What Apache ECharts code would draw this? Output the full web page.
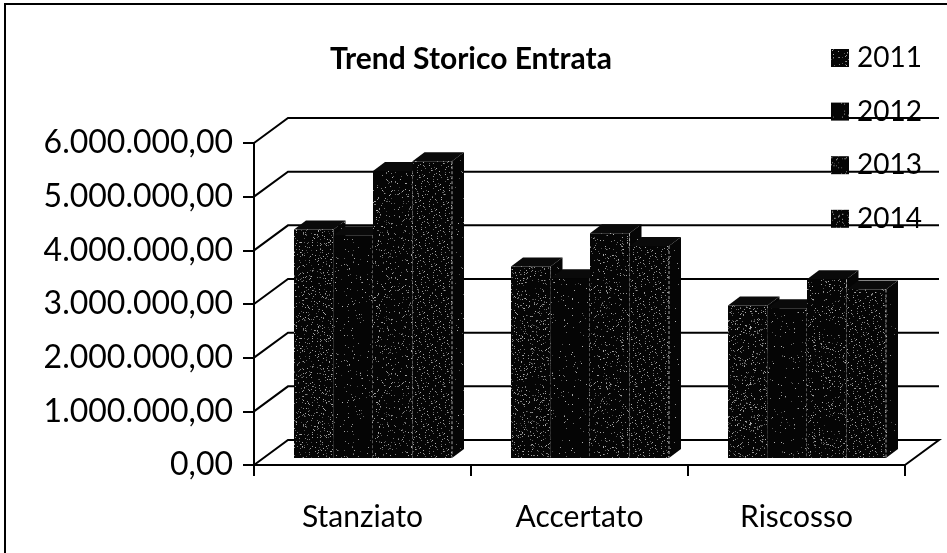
<!DOCTYPE html>
<html><head><meta charset="utf-8">
<style>html,body{margin:0;padding:0;background:#fff}#c{width:947px;height:553px}</style>
<script src="https://cdn.jsdelivr.net/npm/echarts@6/dist/echarts.min.js"></script>
</head><body><div id="c"></div>
<script>
var categories = ['Stanziato','Accertato','Riscosso'];
var seriesNames = ['2011','2012','2013','2014'];
var values2011 = [4260000,3570000,2840000];
var values2012 = [4150000,3350000,2790000];
var values2013 = [5350000,4190000,3330000];
var values2014 = [5530000,3950000,3140000];
var tickLabels = ['0,00','1.000.000,00','2.000.000,00','3.000.000,00','4.000.000,00','5.000.000,00','6.000.000,00'];
var tickValues = [0,1000000,2000000,3000000,4000000,5000000,6000000];
var allValues = [values2011,values2012,values2013,values2014];

function tile(density, seed){
  var c=document.createElement('canvas');c.width=c.height=96;
  var g=c.getContext('2d');g.fillStyle='#050505';g.fillRect(0,0,96,96);
  var s=seed;
  for(var y=0;y<96;y++)for(var x=0;x<96;x++){
    s=(s*1103515245+12345)&0x7fffffff;
    var r=(s>>>8)%1000;
    if(r<density){var v=60+(s>>>20)%120;g.fillStyle='rgb('+v+','+v+','+v+')';g.fillRect(x,y,1,1);}
  }
  return {image:c,repeat:'repeat'};
}
var fronts=[tile(95,7),tile(25,11),tile(75,23),tile(80,37)];
var sidePat=tile(10,51);

var WALL_DX=34,WALL_DY=-25,OFF_X=10,OFF_Y=-7,DEPTH_X=12,DEPTH_Y=-9,LEAD=30,BW=39.5;

function wallItem(params,api){
  var v=api.value(0);
  var p0=api.coord([0,v]);
  var cs=params.coordSys;
  var x0=cs.x,x1=cs.x+cs.width,y=p0[1];
  var pts=[[x0,y],[x0+WALL_DX,y+WALL_DY],[x1+WALL_DX,y+WALL_DY]];
  if(v===0)pts.push([x1,y]);
  return {type:'polyline',shape:{points:pts},style:{stroke:'#000',lineWidth:2,fill:null},silent:true};
}
function barRender(i){
  return function(params,api){
    var cat=api.value(0),val=api.value(1);
    var top=api.coord([cat,val]),base=api.coord([cat,0]);
    var band=api.size([1,0])[0];
    var x=top[0]-band/2+LEAD+OFF_X+i*BW,w=BW;
    var yt=top[1]+OFF_Y,yb=base[1]+OFF_Y;
    return {type:'group',children:[
      {type:'polygon',shape:{points:[[x+w,yt],[x+w+DEPTH_X,yt+DEPTH_Y],[x+w+DEPTH_X,yb+DEPTH_Y],[x+w,yb]]},style:{fill:sidePat}},
      {type:'polygon',shape:{points:[[x,yt],[x+DEPTH_X,yt+DEPTH_Y],[x+w+DEPTH_X,yt+DEPTH_Y],[x+w,yt]]},style:{fill:'#0a0a0a'}},
      {type:'rect',shape:{x:x,y:yt,width:w,height:yb-yt},style:{fill:fronts[i]}},
      {type:'line',shape:{x1:x+w,y1:yt,x2:x+w,y2:yb},style:{stroke:'#b5b5b5',lineWidth:1,lineDash:[3,2],opacity:i===0?0.25:0.9}}
    ]};
  };
}
var series=[{
  name:'walls',type:'custom',coordinateSystem:'cartesian2d',z:1,silent:true,
  data:tickValues.map(function(v){return [v];}),
  encode:{y:0},renderItem:wallItem
}];
seriesNames.forEach(function(n,i){
  series.push({
    name:n,type:'custom',coordinateSystem:'cartesian2d',z:2+i,
    itemStyle:{color:fronts[i]},
    data:allValues[i].map(function(v,k){return [k,v];}),
    encode:{x:0,y:1},renderItem:barRender(i)
  });
});
var FONT='Lato';
var chart=echarts.init(document.getElementById('c'),null,{renderer:'canvas'});
chart.setOption({
  animation:false,backgroundColor:'#fff',
  title:{text:'Trend Storico Entrata',left:466,top:39,textAlign:'center',
    textStyle:{fontFamily:FONT,fontSize:30,fontWeight:'bold',color:'#000'}},
  legend:{data:seriesNames,orient:'vertical',left:831,top:40,itemWidth:18,itemHeight:18,itemGap:17.6,
    icon:'rect',selectedMode:false,padding:0,
    textStyle:{fontFamily:FONT,fontSize:28,color:'#000',padding:[0,0,0,3],lineHeight:36}},
  grid:{left:254,top:143,width:651,height:322},
  xAxis:{type:'category',data:categories,boundaryGap:true,
    axisLine:{lineStyle:{color:'#000',width:2}},
    axisTick:{show:true,length:11,alignWithLabel:false,lineStyle:{color:'#000',width:2}},
    axisLabel:{fontFamily:FONT,fontSize:30,color:'#000',margin:37}},
  yAxis:{type:'value',min:0,max:6000000,interval:1000000,
    axisLine:{show:true,lineStyle:{color:'#000',width:2}},
    axisTick:{show:true,length:11,lineStyle:{color:'#000',width:2}},
    splitLine:{show:false},
    axisLabel:{fontFamily:FONT,fontSize:32,color:'#000',margin:21,padding:[4,0,0,0],
      formatter:function(v){return tickLabels[tickValues.indexOf(v)];}}},
  graphic:[{type:'polyline',z:100,shape:{points:[[5,553],[5,4],[947,4]]},style:{stroke:'#000',lineWidth:2,fill:null},silent:true}],
  series:series
});
</script></body></html>
